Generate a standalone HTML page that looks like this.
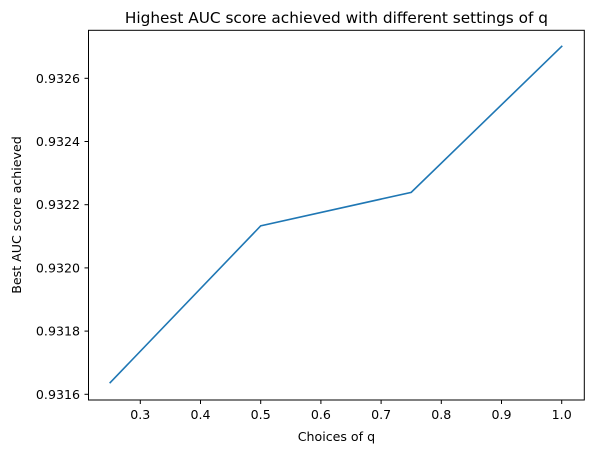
<!DOCTYPE html>
<html><head><meta charset="utf-8"><style>
body{margin:0;background:#fff;}
text{font-family:"DejaVu Sans","Liberation Sans",sans-serif;fill:#000;}
</style></head><body>
<svg id="chart" width="594" height="453" xmlns="http://www.w3.org/2000/svg">
<text x="336.4" y="23" font-size="15.3" text-anchor="middle">Highest AUC score achieved with different settings of q</text>
<text x="336.4" y="441" font-size="12.6" text-anchor="middle">Choices of q</text>
<text transform="translate(21,215) rotate(-90)" font-size="12.6" text-anchor="middle">Best AUC score achieved</text>
<g id="ticks"></g>
<path id="series" fill="none" stroke="#1f77b4" stroke-width="1.6" stroke-linecap="square"/>
<rect x="88.5" y="30.3" width="495.8" height="369.7" fill="none" stroke="#000" stroke-width="1"/>
</svg>
<script>
const qValues=[0.25,0.5,0.75,1.0];
const aucValues=[0.931637,0.932133,0.932239,0.932701];
const xTicks=[0.3,0.4,0.5,0.6,0.7,0.8,0.9,1.0];
const yTicks=[0.9316,0.9318,0.9320,0.9322,0.9324,0.9326];
function xs(v){return 441.3+(v-0.8)*602;}
function ys(v){return 394.3-(v-0.9316)*316000;}
const NS="http://www.w3.org/2000/svg";
const g=document.getElementById('ticks');
xTicks.forEach(t=>{
 const l=document.createElementNS(NS,'line');
 
 
 l.setAttribute('x1',xs(t));l.setAttribute('x2',xs(t));l.setAttribute('y1',400);l.setAttribute('y2',404);l.setAttribute('stroke','#000');g.appendChild(l);
 const tx=document.createElementNS(NS,'text');
 
 
 tx.setAttribute('x',xs(t));tx.setAttribute('y',419);tx.setAttribute('font-size','12.6');tx.setAttribute('text-anchor','middle');tx.textContent=t.toFixed(1);g.appendChild(tx);
});
yTicks.forEach(t=>{
 const l=document.createElementNS(NS,'line');
 
 
 l.setAttribute('x1',84.5);l.setAttribute('x2',88.5);l.setAttribute('y1',ys(t));l.setAttribute('y2',ys(t));l.setAttribute('stroke','#000');g.appendChild(l);
 const tx=document.createElementNS(NS,'text');
 
 
 tx.setAttribute('x',80);tx.setAttribute('y',ys(t)+4.5);tx.setAttribute('font-size','12.6');tx.setAttribute('text-anchor','end');tx.textContent=t.toFixed(4);g.appendChild(tx);
});
document.getElementById('series').setAttribute('d',qValues.map((q,i)=>(i?'L':'M')+xs(q)+','+ys(aucValues[i])).join(' '));
</script>
</body></html>
